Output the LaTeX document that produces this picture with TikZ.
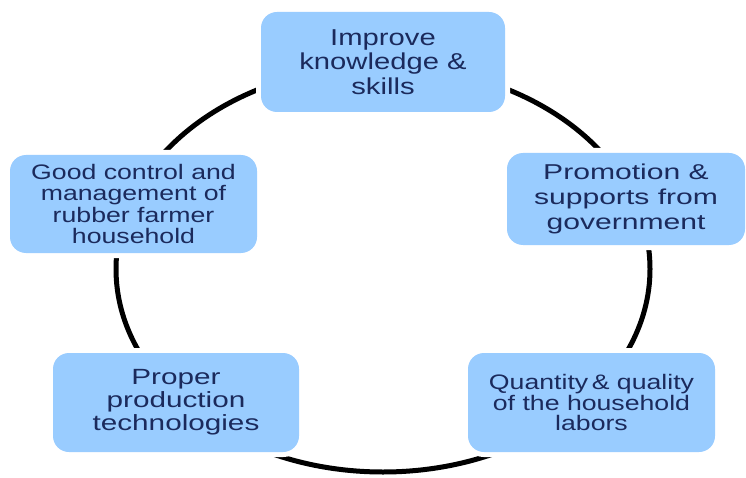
\documentclass[tikz,border=0pt]{standalone}
\usepackage{fontspec}
\setmainfont{Liberation Sans}
\newfontfamily\fa[FakeStretch=1.27]{Liberation Sans}
\newfontfamily\fb[FakeStretch=1.40]{Liberation Sans}
\newfontfamily\fc[FakeStretch=1.35]{Liberation Sans}
\definecolor{boxblue}{HTML}{99CCFF}
\definecolor{navy}{HTML}{1B2A5C}
\tikzset{
  cyclebox/.style={rectangle, rounded corners=16pt, fill=boxblue,
    preaction={draw=white, line width=10pt},
    inner sep=0pt, align=center, text=navy},
  ring/.style={line width=5pt, black}
}
\begin{document}
\begin{tikzpicture}[x=1pt,y=-1pt]
\useasboundingbox (0,0) rectangle (746,478);
\draw[ring] (383,269) ellipse [x radius=267pt, y radius=203pt];
\node[cyclebox, minimum width=244pt, minimum height=100pt,
  font=\fa\fontsize{23}{24.5}\selectfont] (top) at (383,62)
  {Improve\\knowledge \&\\skills};
\node[cyclebox, minimum width=238pt, minimum height=92pt,
  font=\fb\fontsize{21.5}{25}\selectfont] (right) at (626,199)
  {Promotion \&\\supports from\\government};
\node[cyclebox, minimum width=247pt, minimum height=98pt,
  font=\fa\fontsize{21}{21.5}\selectfont] (left) at (133.5,204)
  {Good control and\\management of\\rubber farmer\\household};
\node[cyclebox, minimum width=246pt, minimum height=99pt,
  font=\fc\fontsize{22}{23}\selectfont] (bl) at (176,402.5)
  {Proper\\production\\technologies};
\node[cyclebox, minimum width=247pt, minimum height=99pt,
  font=\fa\fontsize{21}{20.5}\selectfont] (br) at (591.5,402.5)
  {Quantity\,\& quality\\of the household\\labors};
\end{tikzpicture}
\end{document}
